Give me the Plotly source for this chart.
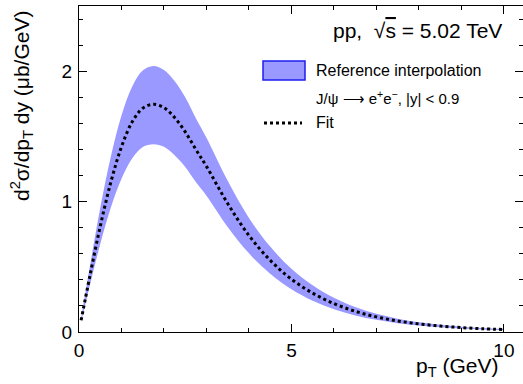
import plotly.graph_objects as go

# data
pt = [0.05, 0.25, 0.5, 0.75, 1.0, 1.25, 1.5, 1.75, 2.0, 2.25, 2.5, 2.75, 3.0, 3.5,
      4.0, 4.5, 5.0, 5.5, 6.0, 6.5, 7.0, 7.5, 8.0, 8.5, 9.0, 9.5, 10.0]
fit = [0.09, 0.42, 0.81, 1.15, 1.42, 1.61, 1.716, 1.746, 1.72, 1.645, 1.535, 1.40,
       1.27, 0.985, 0.74, 0.55, 0.405, 0.298, 0.218, 0.159, 0.116, 0.085, 0.062,
       0.046, 0.034, 0.025, 0.019]
upper = [0.105, 0.49, 0.95, 1.345, 1.66, 1.88, 2.005, 2.04, 2.01, 1.925, 1.80, 1.64,
         1.49, 1.16, 0.875, 0.655, 0.485, 0.358, 0.262, 0.191, 0.139, 0.102, 0.074,
         0.055, 0.041, 0.030, 0.023]
lower = [0.076, 0.35, 0.675, 0.955, 1.175, 1.33, 1.418, 1.44, 1.42, 1.355, 1.265, 1.15,
         1.045, 0.805, 0.603, 0.447, 0.328, 0.24, 0.175, 0.127, 0.093, 0.068, 0.05,
         0.037, 0.027, 0.020, 0.015]
x_ticks = [0, 5, 10]
y_ticks = [0, 1, 2]

BAND = "rgb(153,153,255)"
FONT = "Liberation Sans, Arial, sans-serif"

fig = go.Figure()
fig.add_trace(go.Scatter(x=pt, y=lower, mode="lines", line=dict(width=0, shape="spline"),
                         showlegend=False, hoverinfo="skip"))
fig.add_trace(go.Scatter(x=pt, y=upper, mode="lines", line=dict(width=0, shape="spline"),
                         fill="tonexty", fillcolor=BAND, showlegend=False, hoverinfo="skip"))
fig.add_trace(go.Scatter(x=pt, y=fit, mode="lines",
                         line=dict(color="black", width=3, dash="dot", shape="spline"),
                         showlegend=False))

W, H = 523, 384
ml, mr, mt, mb = 79, 0, 6, 52
pw, ph = W - ml - mr, H - mt - mb


def px(xp):
    return (xp - ml) / pw


def py(yp):
    return (H - mb - yp) / ph


axis_common = dict(showgrid=False, zeroline=False, showline=True, linecolor="black",
                   linewidth=1, mirror="allticks", ticks="inside", ticklen=8,
                   tickwidth=1, tickcolor="black",
                   tickfont=dict(family=FONT, size=19, color="black"))

fig.update_xaxes(range=[0, 10.45], tickvals=x_ticks, ticktext=[str(v) for v in x_ticks],
                 minor=dict(dtick=1, ticklen=4, ticks="inside", tickcolor="black"),
                 ticklabelstandoff=1, **axis_common)
fig.update_yaxes(range=[0, 2.5], tickvals=y_ticks, ticktext=[str(v) for v in y_ticks],
                 minor=dict(dtick=0.2, ticklen=4, ticks="inside", tickcolor="black"),
                 ticklabelstandoff=2, **axis_common)

shapes = [
    dict(type="rect", xref="paper", yref="paper", x0=px(263), x1=px(305), y0=py(80), y1=py(61),
         fillcolor=BAND, line=dict(color="rgb(30,30,240)", width=1.5)),
    dict(type="line", xref="paper", yref="paper", x0=px(264), x1=px(302), y0=py(123), y1=py(123),
         line=dict(color="black", width=3, dash="dot")),
]

annotations = [
    dict(text="pp,  √<span style='text-decoration:overline'>s</span> = 5.02 TeV",
         xref="paper", yref="paper", x=px(504), y=py(30), xanchor="right", yanchor="middle",
         showarrow=False, font=dict(family=FONT, size=21, color="black")),
    dict(text="Reference interpolation", xref="paper", yref="paper", x=px(314), y=py(70),
         xanchor="left", yanchor="middle", showarrow=False,
         font=dict(family=FONT, size=16, color="black")),
    dict(text="J/ψ ⟶ e<sup>+</sup>e<sup>−</sup>, |y| < 0.9", xref="paper", yref="paper",
         x=px(314), y=py(97), xanchor="left", yanchor="middle", showarrow=False,
         font=dict(family=FONT, size=15, color="black")),
    dict(text="Fit", xref="paper", yref="paper", x=px(314), y=py(122),
         xanchor="left", yanchor="middle", showarrow=False,
         font=dict(family=FONT, size=16, color="black")),
    dict(text="p<sub>T</sub> (GeV)", xref="paper", yref="paper", x=px(501), y=py(367),
         xanchor="right", yanchor="middle", showarrow=False,
         font=dict(family=FONT, size=21, color="black")),
    dict(text="d<sup>2</sup>σ/dp<sub>T</sub> dy (μb/GeV)", xref="paper", yref="paper",
         x=px(22), y=py(9), xanchor="center", yanchor="top", textangle=-90, showarrow=False,
         font=dict(family=FONT, size=21, color="black")),
]

fig.update_layout(width=W, height=H, margin=dict(l=ml, r=mr, t=mt, b=mb),
                  plot_bgcolor="white", paper_bgcolor="white", showlegend=False,
                  shapes=shapes, annotations=annotations)

fig.write_html("out.html")
